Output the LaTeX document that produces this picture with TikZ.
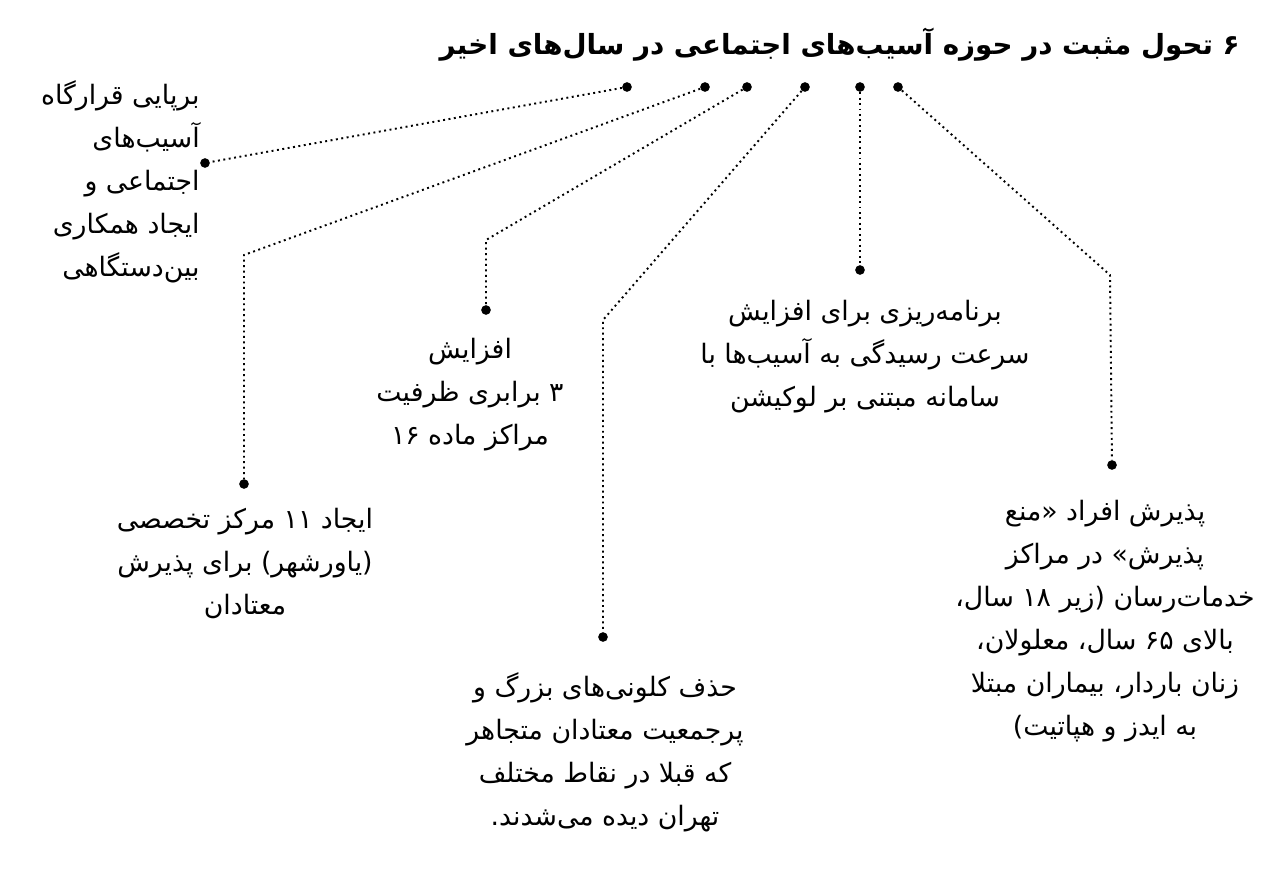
\documentclass[tikz,border=0pt]{standalone}
\usepackage{fontspec}
\TeXXeTstate=1
\newfontfamily\fa[Script=Arabic]{DejaVu Sans}
\newcommand{\R}[1]{\beginR #1\endR}
\begin{document}
\begin{tikzpicture}[x=0.02cm,y=-0.02cm,
  dotn/.style={circle,fill=black,inner sep=0pt,minimum size=5.5pt},
  lnk/.style={dotted,line width=1.1pt},
  txt/.style={font=\fa\fontsize{15.2}{24.5}\selectfont,align=center,inner sep=0pt}]
\useasboundingbox (0,0) rectangle (1280,869);
\node[font=\fa\bfseries\fontsize{15.8}{19}\selectfont,anchor=east,inner sep=0pt] (title) at (1240,45) {\R{۶ تحول مثبت در حوزه آسیب‌های اجتماعی در سال‌های اخیر}};
\foreach \n/\x in {a/627,b/705,c/747,d/805,e/860,f/898} \node[dotn] (\n) at (\x,87) {};
\node[dotn] (a1) at (205,163) {};
\node[dotn] (b2) at (244,484) {};
\node[dotn] (c2) at (486,310) {};
\node[dotn] (d2) at (603,637) {};
\node[dotn] (e1) at (860,270) {};
\node[dotn] (f2) at (1112,465) {};
\coordinate (b1) at (244,255);
\coordinate (c1) at (486,240);
\coordinate (d1) at (603,320);
\coordinate (f1) at (1110,275);
\draw[lnk] (a) -- (a1);
\draw[lnk] (b) -- (b1) -- (b2);
\draw[lnk] (c) -- (c1) -- (c2);
\draw[lnk] (d) -- (d1) -- (d2);
\draw[lnk] (e) -- (e1);
\draw[lnk] (f) -- (f1) -- (f2);
\node[txt,align=right,anchor=north east] (t1) at (200,80) {\R{برپایی قرارگاه}\\\R{آسیب‌های}\\\R{اجتماعی و}\\\R{ایجاد همکاری}\\\R{بین‌دستگاهی}};
\node[txt,anchor=north] (t2) at (245,508) {\R{ایجاد ۱۱ مرکز تخصصی}\\\R{(یاورشهر) برای پذیرش}\\\R{معتادان}};
\node[txt,anchor=north] (t3) at (470,338) {\R{افزایش}\\\R{۳ برابری ظرفیت}\\\R{مراکز ماده ۱۶}};
\node[txt,anchor=north] (t4) at (605,672) {\R{حذف کلونی‌های بزرگ و}\\\R{پرجمعیت معتادان متجاهر}\\\R{که قبلا در نقاط مختلف}\\\R{تهران دیده می‌شدند.}};
\node[txt,anchor=north] (t5) at (865,300) {\R{برنامه‌ریزی برای افزایش}\\\R{سرعت رسیدگی به آسیب‌ها با}\\\R{سامانه مبتنی بر لوکیشن}};
\node[txt,anchor=north] (t6) at (1105,500) {\R{پذیرش افراد «منع}\\\R{پذیرش» در مراکز}\\\R{خدمات‌رسان (زیر ۱۸ سال،}\\\R{بالای ۶۵ سال، معلولان،}\\\R{زنان باردار، بیماران مبتلا}\\\R{به ایدز و هپاتیت)}};
\end{tikzpicture}
\end{document}
